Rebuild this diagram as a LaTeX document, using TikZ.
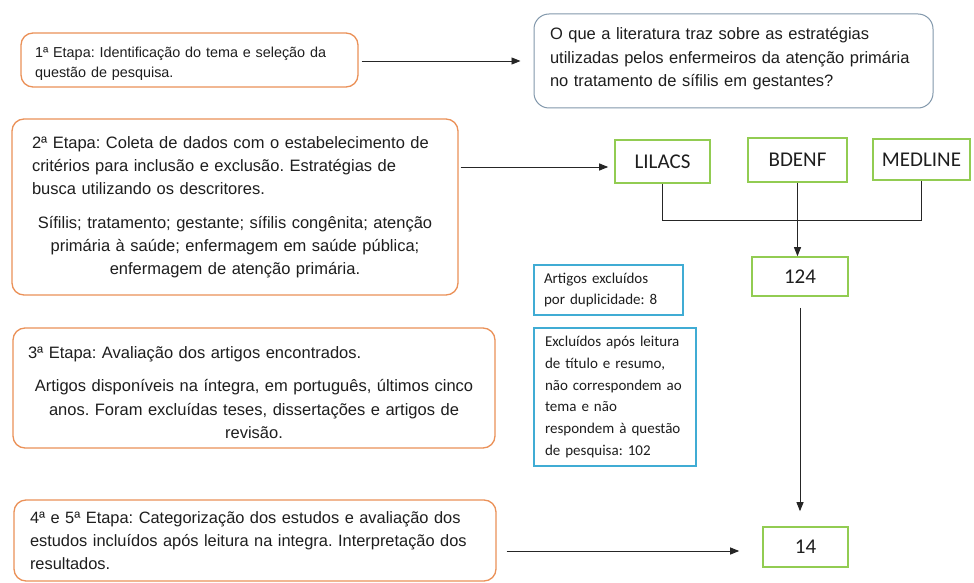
\documentclass[tikz,border=0pt]{standalone}
\usepackage{fontspec}
\setmainfont{Liberation Sans}
\newfontfamily\calib{Carlito}
\usetikzlibrary{arrows.meta}
\frenchspacing
\definecolor{orng}{RGB}{235,145,88}
\definecolor{qblue}{RGB}{130,152,172}
\definecolor{grn}{RGB}{146,204,82}
\definecolor{cyanb}{RGB}{64,172,212}
\definecolor{txt}{RGB}{30,30,30}
\tikzset{
  etapa/.style={draw=orng, line width=1.3pt, rounded corners=12pt, text=txt, inner ysep=0pt},
  qbox/.style={draw=qblue, line width=1pt, rounded corners=15pt, text=txt, inner ysep=0pt},
  gbox/.style={draw=grn, line width=1.6pt, text=txt, inner sep=0pt, font=\calib\fontsize{21}{24}\selectfont},
  bbox/.style={draw=cyanb, line width=1.1pt, text=txt, inner ysep=0pt, align=left, font=\calib\fontsize{15}{21.8}\selectfont},
  arr/.style={-{Triangle[length=9pt,width=7pt]}, line width=0.9pt, draw=black!85},
  ln/.style={line width=0.9pt, draw=black!85}
}
\begin{document}
\begin{tikzpicture}[x=1pt,y=-1pt]
\useasboundingbox (0,0) rectangle (974,583);
\fill[white] (0,0) rectangle (974,583);

% Etapa 1
\node[etapa, minimum width=337pt, minimum height=54pt, inner xsep=14pt, text width=309pt, align=left,
      font=\fontsize{14.4}{20}\selectfont] (e1) at (189.5,60)
  {\rule{0pt}{18pt}1ª Etapa: Identificação do tema e seleção da\\questão de pesquisa.};

% Question
\node[qbox, minimum width=399pt, minimum height=94pt, inner xsep=16pt, text width=367pt, align=left,
      font=\fontsize{16.5}{23.5}\selectfont] (q) at (733.5,61)
  {O que a literatura traz sobre as estratégias\\utilizadas pelos enfermeiros da atenção primária\\no tratamento de sífilis em gestantes?\par\kern4pt};

% Etapa 2
\node[etapa, minimum width=446pt, minimum height=176pt, inner xsep=20pt, text width=406pt,
      font=\fontsize{16.5}{23}\selectfont] (e2) at (235,207)
  {\raggedright 2ª Etapa: Coleta de dados com o estabelecimento de\\critérios para inclusão e exclusão. Estratégias de\\busca utilizando os descritores.\par\vspace{11pt}
   \centering Sífilis; tratamento; gestante; sífilis congênita; atenção\\primária à saúde; enfermagem em saúde pública;\\enfermagem de atenção primária.\par};

% Etapa 3
\node[etapa, minimum width=482pt, minimum height=120pt, inner xsep=15pt, text width=452pt,
      font=\fontsize{16.5}{23.5}\selectfont] (e3) at (254,388)
  {\raggedright\rule{0pt}{22pt}3ª Etapa: Avaliação dos artigos encontrados.\par\vspace{9.5pt}
   \centering Artigos disponíveis na íntegra, em português, últimos cinco\\anos. Foram excluídas teses, dissertações e artigos de\\revisão.\par};

% Etapa 4 e 5
\node[etapa, minimum width=482pt, minimum height=81pt, inner xsep=16pt, text width=450pt, align=left,
      font=\fontsize{16.4}{23}\selectfont] (e4) at (255,540.5)
  {4ª e 5ª Etapa: Categorização dos estudos e avaliação dos\\estudos incluídos após leitura na integra. Interpretação dos\\resultados.};

% Databases
\node[gbox, minimum width=95pt, minimum height=43pt] (lil) at (662.5,161.5) {LILACS};
\node[gbox, minimum width=99pt, minimum height=44pt] (bd) at (797.5,160) {BDENF};
\node[gbox, minimum width=97pt, minimum height=41pt] (med) at (921.5,159.5) {MEDLINE};
\node[gbox, minimum width=96pt, minimum height=39pt] (n124) at (800,276.5) {124};
\node[gbox, minimum width=85pt, minimum height=40pt] (n14) at (805.5,547) {14};

% Exclusion boxes
\node[bbox, minimum width=149pt, minimum height=50pt, inner xsep=10pt, text width=129pt] (exa) at (608.5,290)
  {Artigos excluídos\\por duplicidade: 8};
\node[bbox, minimum width=162pt, minimum height=138pt, inner xsep=11pt, text width=140pt] (exb) at (615,397)
  {Excluídos após leitura\\de título e resumo,\\não correspondem ao\\tema e não\\respondem à questão\\de pesquisa: 102};

% Connectors
\coordinate (hy) at (0,220);
\coordinate (a1) at (0,61);
\coordinate (a2) at (0,167);
\coordinate (a4) at (0,551);
\coordinate (jl) at (lil.south |- hy);
\coordinate (jb) at (bd.south |- hy);
\coordinate (jm) at (med.south |- hy);
\draw[arr, shorten <=3pt, shorten >=13pt] (e1.east |- a1) -- (q.west |- a1);
\draw[arr, shorten <=2pt, shorten >=6pt] (e2.east |- a2) -- (lil.west |- a2);
\draw[ln] (lil.south) -- (jl) -- (jm) -- (med.south);
\draw[arr] (bd.south) -- (jb) -- (jb |- n124.north);
\draw[arr, shorten <=11pt, shorten >=15pt] (n124.south) -- (n124.south |- n14.north);
\draw[arr, shorten <=10pt, shorten >=23pt] (e4.east |- a4) -- (n14.west |- a4);
\end{tikzpicture}
\end{document}
